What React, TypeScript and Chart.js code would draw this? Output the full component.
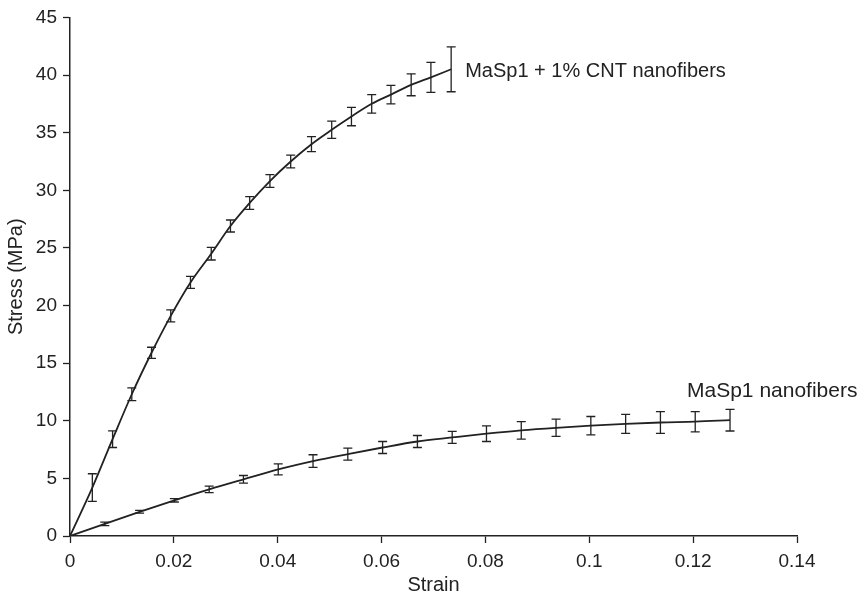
import React, { useEffect, useRef } from 'react';
import { Chart, registerables } from 'chart.js';
Chart.register(...registerables);

// ---- data ----
const cntStrain = [0.0043, 0.0082, 0.0119, 0.0157, 0.0194, 0.0232, 0.0272, 0.0309, 0.0346, 0.0385, 0.0425, 0.0465, 0.0504, 0.0542, 0.0581, 0.0618, 0.0657, 0.0695, 0.0734];
const cntStress = [4.2, 8.4, 12.3, 15.9, 19.1, 22.0, 24.5, 26.9, 28.9, 30.8, 32.5, 34.0, 35.25, 36.4, 37.5, 38.3, 39.15, 39.8, 40.5];
const cntError = [1.2, 0.72, 0.55, 0.48, 0.52, 0.52, 0.55, 0.52, 0.55, 0.55, 0.55, 0.65, 0.75, 0.8, 0.8, 0.8, 0.95, 1.3, 1.95];

const maspStrain = [0.0067, 0.0134, 0.0201, 0.0268, 0.0334, 0.0401, 0.0468, 0.0535, 0.0602, 0.0669, 0.0736, 0.0802, 0.0869, 0.0936, 0.1003, 0.107, 0.1137, 0.1204, 0.1271];
const maspStress = [1.05, 2.1, 3.1, 4.05, 4.92, 5.78, 6.5, 7.11, 7.68, 8.2, 8.55, 8.88, 9.17, 9.39, 9.57, 9.73, 9.85, 9.92, 10.05];
const maspError = [0.15, 0.12, 0.15, 0.28, 0.33, 0.47, 0.55, 0.52, 0.52, 0.52, 0.52, 0.68, 0.76, 0.75, 0.8, 0.83, 0.95, 0.88, 0.94];

const seriesLabels = ['MaSp1 + 1% CNT nanofibers', 'MaSp1 nanofibers'];
const xTicks = [0, 0.02, 0.04, 0.06, 0.08, 0.1, 0.12, 0.14];
const yTicks = [0, 5, 10, 15, 20, 25, 30, 35, 40, 45];
const xTitle = 'Strain';
const yTitle = 'Stress (MPa)';

const INK = '#222222';
const FONT = "'Liberation Sans', Arial, Helvetica, sans-serif";

const withOrigin = (xs: number[], ys: number[]) => [{ x: 0, y: 0 }, ...xs.map((x, i) => ({ x, y: ys[i] }))];

const errorBarPlugin = {
  id: 'errorBars',
  afterDatasetsDraw(chart: any) {
    const { ctx, scales } = chart;
    const sx = scales.x, sy = scales.y;
    const groups = [
      { xs: cntStrain, ys: cntStress, es: cntError },
      { xs: maspStrain, ys: maspStress, es: maspError },
    ];
    ctx.save();
    ctx.strokeStyle = INK;
    ctx.lineWidth = 1.3;
    const cap = 4.5;
    groups.forEach(g => {
      g.xs.forEach((xv, i) => {
        const px = sx.getPixelForValue(xv);
        const top = sy.getPixelForValue(g.ys[i] + g.es[i]);
        const bot = sy.getPixelForValue(g.ys[i] - g.es[i]);
        ctx.beginPath();
        ctx.moveTo(px, top); ctx.lineTo(px, bot);
        ctx.moveTo(px - cap, top); ctx.lineTo(px + cap, top);
        ctx.moveTo(px - cap, bot); ctx.lineTo(px + cap, bot);
        ctx.stroke();
      });
    });
    ctx.restore();
  },
};

const labelPlugin = {
  id: 'seriesLabels',
  afterDatasetsDraw(chart: any) {
    const { ctx, scales } = chart;
    const sx = scales.x, sy = scales.y;
    ctx.save();
    ctx.fillStyle = INK;
    ctx.textAlign = 'left';
    ctx.textBaseline = 'middle';
    const c = cntStrain.length - 1;
    ctx.font = `20px ${FONT}`;
    ctx.fillText(seriesLabels[0], sx.getPixelForValue(cntStrain[c]) + 14, sy.getPixelForValue(cntStress[c]) + 2);
    const m = maspStrain.length - 1;
    ctx.font = `21px ${FONT}`;
    ctx.fillText(seriesLabels[1], sx.getPixelForValue(maspStrain[m]) - 43, sy.getPixelForValue(maspStress[m]) - 29);
    ctx.restore();
  },
};

export default function App() {
  const ref = useRef<HTMLCanvasElement>(null);
  useEffect(() => {
    if (!ref.current) return;
    const lineDs = (data: any[]) => ({
      data,
      borderColor: INK,
      borderWidth: 1.8,
      pointRadius: 0,
      showLine: true,
      fill: false,
      cubicInterpolationMode: 'monotone' as const,
    });
    const chart = new Chart(ref.current, {
      type: 'scatter',
      data: {
        datasets: [
          { label: seriesLabels[0], ...lineDs(withOrigin(cntStrain, cntStress)) },
          { label: seriesLabels[1], ...lineDs(withOrigin(maspStrain, maspStress)) },
        ],
      },
      options: {
        animation: false,
        responsive: false,
        layout: { padding: { left: 0, right: 64, top: 15, bottom: 0 } },
        plugins: { legend: { display: false }, tooltip: { enabled: false } },
        scales: {
          x: {
            type: 'linear',
            min: 0,
            max: 0.14,
            afterBuildTicks: (s: any) => { s.ticks = xTicks.map(v => ({ value: v })); },
            afterFit: (s: any) => { s.height = 58; },
            ticks: {
              autoSkip: false,
              maxRotation: 0,
              color: INK,
              font: { family: FONT, size: 19 },
              padding: 7,
              callback: (v: any) => String(Number(Number(v).toFixed(2))),
            },
            grid: { drawOnChartArea: false, drawTicks: true, tickLength: 7, color: INK, tickWidth: 1.3 },
            border: { display: true, color: INK, width: 1.5 },
            title: { display: true, text: xTitle, color: INK, font: { family: FONT, size: 20 }, padding: { top: 0, bottom: -3 } },
          },
          y: {
            type: 'linear',
            min: 0,
            max: 45,
            afterBuildTicks: (s: any) => { s.ticks = yTicks.map(v => ({ value: v })); },
            afterFit: (s: any) => { s.width = 70; },
            ticks: {
              autoSkip: false,
              color: INK,
              font: { family: FONT, size: 19 },
              padding: 6,
              callback: (v: any) => String(v),
            },
            grid: { drawOnChartArea: false, drawTicks: true, tickLength: 7, color: INK, tickWidth: 1.3 },
            border: { display: true, color: INK, width: 1.5 },
            title: { display: true, text: yTitle, color: INK, font: { family: FONT, size: 20 }, padding: { top: 4, bottom: 0 } },
          },
        },
      } as any,
      plugins: [errorBarPlugin, labelPlugin],
    });
    return () => chart.destroy();
  }, []);
  return (
    <div style={{ position: 'absolute', left: 0, top: 0, width: 861, height: 594, background: '#fff' }}>
      <canvas ref={ref} width={861} height={594} />
    </div>
  );
}
